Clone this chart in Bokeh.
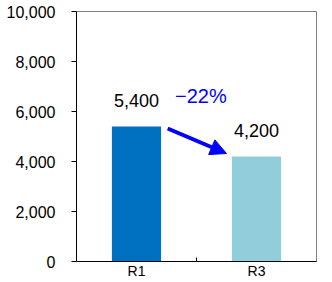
from bokeh.plotting import figure
from bokeh.models import (ColumnDataSource, LabelSet, Label, Arrow, NormalHead,
                          FixedTicker, NumeralTickFormatter, Range1d)
from bokeh.core.properties import value
from bokeh.embed import file_html
from bokeh.resources import INLINE

categories = ["R1", "R3"]
values = [5400, 4200]
value_labels = ["5,400", "4,200"]
bar_colors = ["#0070C0", "#92CDDC"]
change_label = "\u221222%"
y_ticks = [0, 2000, 4000, 6000, 8000, 10000]

FONT = "Liberation Sans"

xs = [i + 0.5 for i in range(len(categories))]

p = figure(width=332, height=282, output_backend="svg", toolbar_location=None,
           x_range=Range1d(0, len(categories)), y_range=Range1d(0, 10000),
           min_border_left=76, min_border_right=16, min_border_top=11,
           min_border_bottom=21)
p.xgrid.visible = False
p.ygrid.visible = False
p.outline_line_color = "#808080"
p.outline_line_width = 1
p.background_fill_color = "white"
p.border_fill_color = "white"

src = ColumnDataSource(dict(x=xs, top=values, color=bar_colors, label=value_labels))
p.vbar(x="x", top="top", width=0.41, color="color", source=src, line_color=None)

labels = LabelSet(x="x", y="top", text="label", source=src, text_align="center",
                  text_baseline="bottom", y_offset=20, text_font=value(FONT),
                  text_font_size=value("18px"), text_color="black")
p.add_layout(labels)

p.add_layout(Label(x=1.036, y=values[0], text=change_label, text_align="center",
                   text_baseline="bottom", y_offset=20, text_font=FONT,
                   text_font_size="20px", text_color="#0000FF"))

p.add_layout(Arrow(x_start=0.76, y_start=5320, x_end=1.25, y_end=4320,
                   line_color="#0000FF", line_width=4,
                   end=NormalHead(size=16, fill_color="#0000FF", line_color="#0000FF")))

# y axis
ya = p.yaxis[0]
ya.ticker = FixedTicker(ticks=y_ticks)
ya.formatter = NumeralTickFormatter(format="0,0")
ya.major_tick_out = 5
ya.major_tick_in = 0
ya.minor_tick_line_color = None
ya.major_label_standoff = 16
ya.major_label_text_font = FONT
ya.major_label_text_font_size = "16px"
ya.major_label_text_color = "black"
ya.axis_line_color = "black"
ya.major_tick_line_color = "black"
ya.axis_label_standoff = 0

# x axis
xa = p.xaxis[0]
xa.ticker = FixedTicker(ticks=xs, minor_ticks=[1])
xa.major_label_overrides = {x: c for x, c in zip(xs, categories)}
xa.major_tick_line_color = None
xa.major_tick_in = 0
xa.major_tick_out = 0
xa.minor_tick_in = 4
xa.minor_tick_out = 0
xa.minor_tick_line_color = "black"
xa.major_label_standoff = 1
xa.major_label_text_font = FONT
xa.major_label_text_font_size = "14px"
xa.major_label_text_color = "black"
xa.axis_line_color = "black"
xa.axis_label_standoff = 0

open("out.html", "w").write(file_html(p, INLINE))
